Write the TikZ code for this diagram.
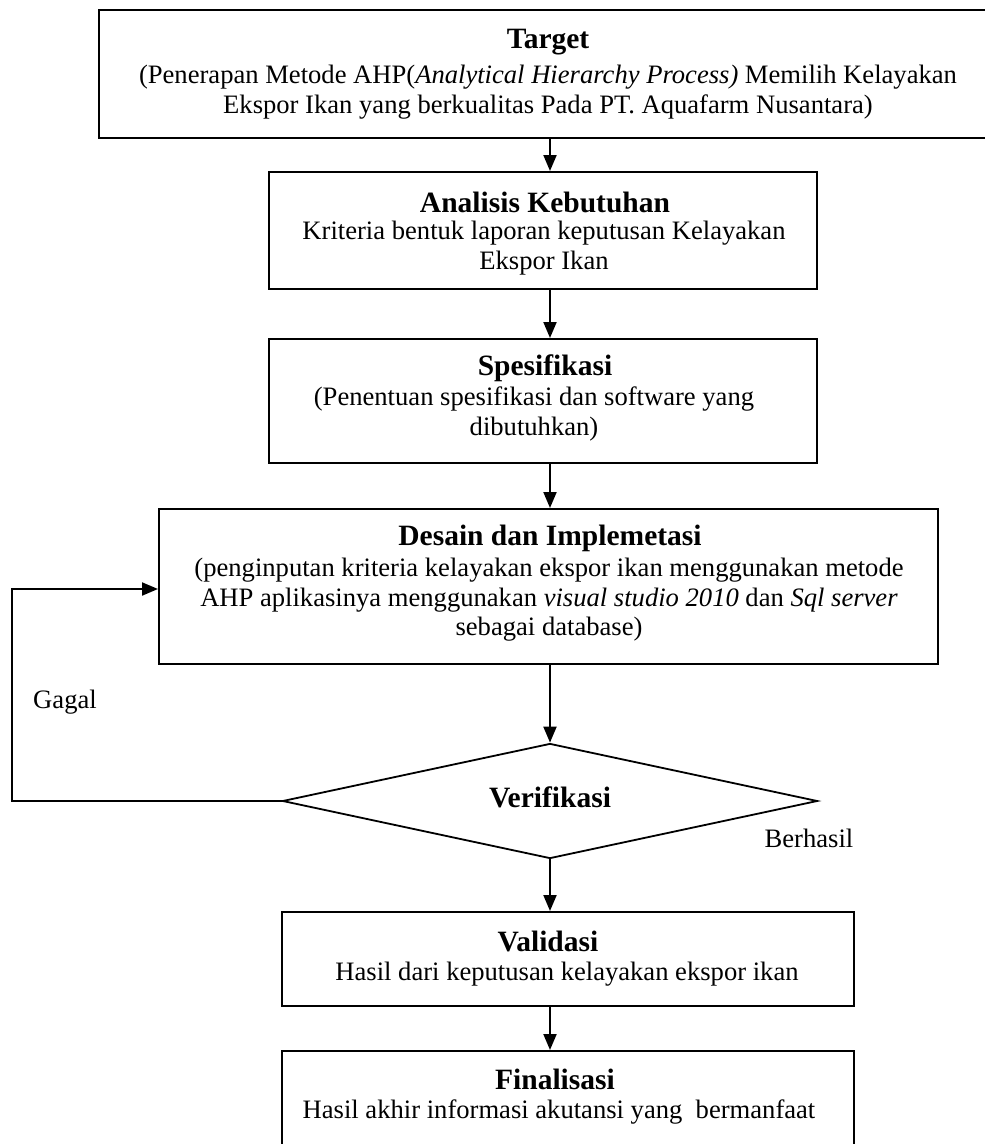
\documentclass[tikz,border=0pt]{standalone}
\usepackage{fontspec}
\setmainfont{Liberation Serif}
\usetikzlibrary{arrows.meta,shapes.geometric}
\newcommand\bodyfnt{\fontsize{26.6}{29.5}\selectfont}
\newcommand\ttlfnt{\fontsize{29.5}{33}\selectfont\bfseries}
\begin{document}
\begin{tikzpicture}[x=1pt,y=-1pt,
  box/.style={draw, line width=2pt, rectangle, inner sep=0pt},
  ttl/.style={font=\ttlfnt, inner sep=0pt},
  body/.style={font=\bodyfnt, align=center, inner sep=0pt},
  lbl/.style={font=\bodyfnt, inner sep=0pt},
  arr/.style={-{Triangle[length=16pt,width=13pt]}, line width=2pt}]
\useasboundingbox (0,0) rectangle (985,1144);
\coordinate (axis) at (550,0);
% boxes
\node[box, minimum width=898pt, minimum height=128pt] (target) at (548,74) {};
\node[box, minimum width=548pt, minimum height=117pt] (analisis) at (543,230.5) {};
\node[box, minimum width=548pt, minimum height=124pt] (spes) at (543,401) {};
\node[box, minimum width=779pt, minimum height=155pt] (desain) at (548.5,586.5) {};
\node[diamond, draw, line width=1.8pt, inner sep=0pt, minimum width=535pt, minimum height=115pt] (ver) at (550,801) {};
\node[box, minimum width=572pt, minimum height=94pt] (valid) at (568,959) {};
\node[box, minimum width=572pt, minimum height=95pt] (final) at (568,1098.5) {};
% texts
\node[ttl] (target-t) at (548,42) {Target};
\node[body] (target-b) at (548,92) {(Penerapan Metode AHP(\textit{Analytical Hierarchy Process)} Memilih Kelayakan\\Ekspor Ikan yang berkualitas Pada PT. Aquafarm Nusantara)};
\node[ttl] (analisis-t) at (545,202) {Analisis Kebutuhan};
\node[body] (analisis-b) at (544,248) {Kriteria bentuk laporan keputusan Kelayakan\\Ekspor Ikan};
\node[ttl] (spes-t) at (545,368) {Spesifikasi};
\node[body] (spes-b) at (534,414) {(Penentuan spesifikasi dan software yang\\dibutuhkan)};
\node[ttl] (desain-t) at (550,538) {Desain dan Implemetasi};
\node[body] (desain-b) at (549,600) {(penginputan kriteria kelayakan ekspor ikan menggunakan metode\\AHP aplikasinya menggunakan \textit{visual studio 2010} dan \textit{Sql server}\\sebagai database)};
\node[ttl] (ver-t) at (550,797) {Verifikasi};
\node[ttl] (valid-t) at (548,941) {Validasi};
\node[body] (valid-b) at (567,974) {Hasil dari keputusan kelayakan ekspor ikan};
\node[ttl] (final-t) at (555,1079) {Finalisasi};
\node[body] (final-b) at (559,1112) {Hasil akhir informasi akutansi yang~ bermanfaat};
\node[lbl] (gagal) at (65,702) {Gagal};
\node[lbl] (berhasil) at (809,838) {Berhasil};
% connectors
\draw[arr] (target.south -| axis) -- (analisis.north -| axis);
\draw[arr] (analisis.south -| axis) -- (spes.north -| axis);
\draw[arr] (spes.south -| axis) -- (desain.north -| axis);
\draw[arr] (desain.south -| axis) -- (ver.north);
\draw[arr] (ver.south) -- (valid.north -| axis);
\draw[arr] (valid.south -| axis) -- (final.north -| axis);
\coordinate (loopc) at (12,589);
\draw[arr] (ver.west) -| (loopc) -- (desain.west |- loopc);
\end{tikzpicture}
\end{document}
